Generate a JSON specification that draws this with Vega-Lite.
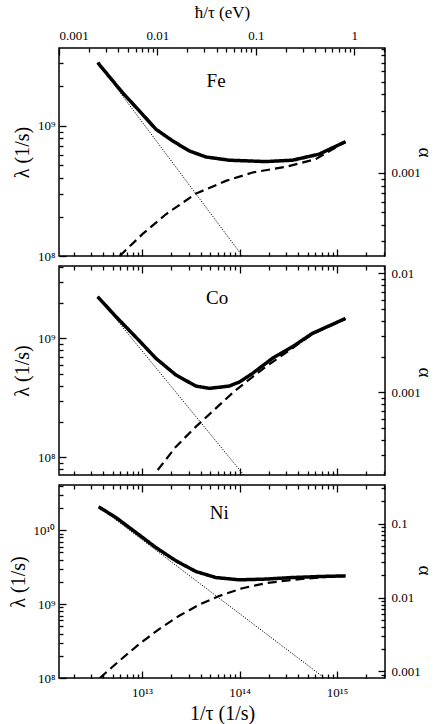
{
  "$schema": "https://vega.github.io/schema/vega-lite/v6.json",
  "autosize": {"type": "pad"},
  "padding": {"left": 7, "top": 2, "right": 2, "bottom": 0},
  "spacing": 10,
  "bounds": "flush",
  "config": {
    "view": {"stroke": "black", "strokeWidth": 1.5},
    "font": "Liberation Serif",
    "text": {"font": "Liberation Serif"},
    "axis": {
      "domain": false, "grid": false, "tickColor": "black", "tickWidth": 1.3,
      "labelFont": "Liberation Serif", "labelFontSize": 13, "labelColor": "black",
      "titleFont": "Liberation Serif", "titleFontSize": 20, "titleFontWeight": "normal", "titleColor": "black",
      "labelOverlap": false
    }
  },
  "vconcat": [
    {
      "width": 326, "height": 208,
      "layer": [
        {
          "encoding": {
            "x": {"field": "x", "type": "quantitative",
              "scale": {"type": "log", "domain": [1.41e12, 3.1e15], "nice": false},
              "axis": {"orient": "bottom", "title": null, "labels": false,
                "values": [2e12,3e12,4e12,5e12,6e12,7e12,8e12,9e12,1e13,2e13,3e13,4e13,5e13,6e13,7e13,8e13,9e13,1e14,2e14,3e14,4e14,5e14,6e14,7e14,8e14,9e14,1e15,2e15,3e15],
                "tickSize": {"condition": {"test": "abs(log(datum.value)/LN10 - round(log(datum.value)/LN10)) < 0.01", "value": -7}, "value": -4}}},
            "y": {"field": "y", "type": "quantitative",
              "scale": {"type": "log", "domain": [1e8, 3.94e9], "nice": false},
              "axis": {"orient": "left", "title": "λ (1/s)", "titlePadding": 5, "labelPadding": 11,
                "values": [1e8,2e8,3e8,4e8,5e8,6e8,7e8,8e8,9e8,1e9,2e9,3e9],
                "labelExpr": "abs(log(datum.value)/LN10 - round(log(datum.value)/LN10)) < 0.01 ? (round(log(datum.value)/LN10) == 8 ? '10⁸' : round(log(datum.value)/LN10) == 9 ? '10⁹' : '10¹⁰') : ''",
                "tickSize": {"condition": {"test": "abs(log(datum.value)/LN10 - round(log(datum.value)/LN10)) < 0.01", "value": -7}, "value": -4}}}
          },
          "layer": [
            {
              "data": {"values": [
                {"s": "solid", "x": 3.52e12, "y": 3.04e9},
                {"s": "solid", "x": 6.32e12, "y": 1.79e9},
                {"s": "solid", "x": 9.38e12, "y": 1.30e9},
                {"s": "solid", "x": 1.39e13, "y": 9.38e8},
                {"s": "solid", "x": 2.06e13, "y": 7.64e8},
                {"s": "solid", "x": 3.05e13, "y": 6.40e8},
                {"s": "solid", "x": 4.52e13, "y": 5.75e8},
                {"s": "solid", "x": 7.83e13, "y": 5.43e8},
                {"s": "solid", "x": 1.86e14, "y": 5.30e8},
                {"s": "solid", "x": 3.48e14, "y": 5.43e8},
                {"s": "solid", "x": 6.53e14, "y": 6.04e8},
                {"s": "solid", "x": 1.22e15, "y": 7.53e8},
                {"s": "dotted", "x": 3.52e12, "y": 3.04e9},
                {"s": "dotted", "x": 1.07e14, "y": 1.0e8},
                {"s": "dashed", "x": 5.9e12, "y": 1.0e8},
                {"s": "dashed", "x": 1.01e13, "y": 1.47e8},
                {"s": "dashed", "x": 1.76e13, "y": 2.09e8},
                {"s": "dashed", "x": 3.57e13, "y": 3.01e8},
                {"s": "dashed", "x": 7.24e13, "y": 3.77e8},
                {"s": "dashed", "x": 1.36e14, "y": 4.37e8},
                {"s": "dashed", "x": 2.98e14, "y": 4.83e8},
                {"s": "dashed", "x": 6.04e14, "y": 5.53e8},
                {"s": "dashed", "x": 1.22e15, "y": 7.53e8}
              ]},
              "mark": {"type": "line", "clip": true, "color": "black"},
              "encoding": {
                "detail": {"field": "s", "type": "nominal"},
                "strokeDash": {"field": "s", "type": "nominal", "scale": {"type": "ordinal", "domain": ["dashed", "dotted", "solid"], "range": [[9, 5], [1.2, 1.5], [1, 0]]}, "legend": null},
                "strokeWidth": {"field": "s", "type": "nominal", "scale": {"type": "ordinal", "domain": ["dashed", "dotted", "solid"], "range": [2.2, 1, 3.5]}, "legend": null}
              }
            },
            {
              "data": {"values": [{"x": 5.75e13, "y": 2.2e9, "name": "Fe"}]},
              "mark": {"type": "text", "fontSize": 19, "font": "Liberation Serif", "align": "center", "baseline": "middle", "color": "black"},
              "encoding": {"text": {"field": "name", "type": "nominal"}}
            }
          ]
        },
        {
          "data": {"values": [{"ev": 0.001, "a": 2.31e-4}, {"ev": 2.05, "a": 9.08e-3}]},
          "mark": {"type": "point", "opacity": 0},
          "encoding": {
            "x": {"field": "ev", "type": "quantitative",
              "scale": {"type": "log", "domain": [0.001, 2.05], "nice": false},
              "axis": {"orient": "top", "title": "ħ/τ   (eV)", "titleFontSize": 17, "titlePadding": 5, "labelPadding": 13, "format": "~g", "labelFlush": true,
                "values": [0.001,0.002,0.003,0.004,0.005,0.006,0.007,0.008,0.009,0.01,0.02,0.03,0.04,0.05,0.06,0.07,0.08,0.09,0.1,0.2,0.3,0.4,0.5,0.6,0.7,0.8,0.9,1,2],
                "labelExpr": "abs(log(datum.value)/LN10 - round(log(datum.value)/LN10)) < 0.01 ? datum.label : ''",
                "tickSize": {"condition": {"test": "abs(log(datum.value)/LN10 - round(log(datum.value)/LN10)) < 0.01", "value": -7}, "value": -4}}},
            "y": {"field": "a", "type": "quantitative",
              "scale": {"type": "log", "domain": [2.31e-4, 9.08e-3], "nice": false},
              "axis": {"orient": "right", "title": "α", "titleFontSize": 19, "titleX": 29, "titleY": 104, "labelPadding": 13, "format": "~g",
                "values": [3e-4,4e-4,5e-4,6e-4,7e-4,8e-4,9e-4,1e-3,2e-3,3e-3,4e-3,5e-3,6e-3,7e-3,8e-3,9e-3],
                "labelExpr": "abs(log(datum.value)/LN10 - round(log(datum.value)/LN10)) < 0.01 ? datum.label : ''",
                "tickSize": {"condition": {"test": "abs(log(datum.value)/LN10 - round(log(datum.value)/LN10)) < 0.01", "value": -7}, "value": -4}}}
          }
        }
      ],
      "resolve": {"scale": {"x": "independent", "y": "independent"}}
    },
    {
      "width": 326, "height": 209,
      "layer": [
        {
          "encoding": {
            "x": {"field": "x", "type": "quantitative",
              "scale": {"type": "log", "domain": [1.41e12, 3.1e15], "nice": false},
              "axis": {"orient": "bottom", "title": null, "labels": false,
                "values": [2e12,3e12,4e12,5e12,6e12,7e12,8e12,9e12,1e13,2e13,3e13,4e13,5e13,6e13,7e13,8e13,9e13,1e14,2e14,3e14,4e14,5e14,6e14,7e14,8e14,9e14,1e15,2e15,3e15],
                "tickSize": {"condition": {"test": "abs(log(datum.value)/LN10 - round(log(datum.value)/LN10)) < 0.01", "value": -7}, "value": -4}}},
            "y": {"field": "y", "type": "quantitative",
              "scale": {"type": "log", "domain": [7.1e7, 4.06e9], "nice": false},
              "axis": {"orient": "left", "title": "λ (1/s)", "titlePadding": 5, "labelPadding": 11,
                "values": [8e7,9e7,1e8,2e8,3e8,4e8,5e8,6e8,7e8,8e8,9e8,1e9,2e9,3e9,4e9],
                "labelExpr": "abs(log(datum.value)/LN10 - round(log(datum.value)/LN10)) < 0.01 ? (round(log(datum.value)/LN10) == 8 ? '10⁸' : round(log(datum.value)/LN10) == 9 ? '10⁹' : '10¹⁰') : ''",
                "tickSize": {"condition": {"test": "abs(log(datum.value)/LN10 - round(log(datum.value)/LN10)) < 0.01", "value": -7}, "value": -4}}}
          },
          "layer": [
            {
              "data": {"values": [
                {"s": "solid", "x": 3.51e12, "y": 2.24e9},
                {"s": "solid", "x": 5.42e12, "y": 1.52e9},
                {"s": "solid", "x": 8.69e12, "y": 1.02e9},
                {"s": "solid", "x": 1.39e13, "y": 6.79e8},
                {"s": "solid", "x": 2.23e13, "y": 4.92e8},
                {"s": "solid", "x": 3.57e13, "y": 3.97e8},
                {"s": "solid", "x": 4.89e13, "y": 3.80e8},
                {"s": "solid", "x": 7.83e13, "y": 3.97e8},
                {"s": "solid", "x": 1.0e14, "y": 4.3e8},
                {"s": "solid", "x": 1.36e14, "y": 5.08e8},
                {"s": "solid", "x": 2.17e14, "y": 6.79e8},
                {"s": "solid", "x": 3.48e14, "y": 8.49e8},
                {"s": "solid", "x": 5.57e14, "y": 1.10e9},
                {"s": "solid", "x": 1.22e15, "y": 1.47e9},
                {"s": "dotted", "x": 3.51e12, "y": 2.24e9},
                {"s": "dotted", "x": 1.106e14, "y": 7.1e7},
                {"s": "dashed", "x": 1.45e13, "y": 7.82e7},
                {"s": "dashed", "x": 2.23e13, "y": 1.23e8},
                {"s": "dashed", "x": 3.57e13, "y": 1.81e8},
                {"s": "dashed", "x": 5.71e13, "y": 2.58e8},
                {"s": "dashed", "x": 9.16e13, "y": 3.68e8},
                {"s": "dashed", "x": 1.86e14, "y": 5.78e8},
                {"s": "dashed", "x": 3.48e14, "y": 8.26e8},
                {"s": "dashed", "x": 5.57e14, "y": 1.09e9},
                {"s": "dashed", "x": 1.22e15, "y": 1.46e9}
              ]},
              "mark": {"type": "line", "clip": true, "color": "black"},
              "encoding": {
                "detail": {"field": "s", "type": "nominal"},
                "strokeDash": {"field": "s", "type": "nominal", "scale": {"type": "ordinal", "domain": ["dashed", "dotted", "solid"], "range": [[9, 5], [1.2, 1.5], [1, 0]]}, "legend": null},
                "strokeWidth": {"field": "s", "type": "nominal", "scale": {"type": "ordinal", "domain": ["dashed", "dotted", "solid"], "range": [2.2, 1, 3.5]}, "legend": null}
              }
            },
            {
              "data": {"values": [{"x": 5.9e13, "y": 2.18e9, "name": "Co"}]},
              "mark": {"type": "text", "fontSize": 19, "font": "Liberation Serif", "align": "center", "baseline": "middle", "color": "black"},
              "encoding": {"text": {"field": "name", "type": "nominal"}}
            }
          ]
        },
        {
          "data": {"values": [{"xt": 1.41e12, "a": 2.03e-4}, {"xt": 3.1e15, "a": 0.0115}]},
          "mark": {"type": "point", "opacity": 0},
          "encoding": {
            "x": {"field": "xt", "type": "quantitative",
              "scale": {"type": "log", "domain": [1.41e12, 3.1e15], "nice": false},
              "axis": {"orient": "top", "title": null, "labels": false,
                "values": [2e12,3e12,4e12,5e12,6e12,7e12,8e12,9e12,1e13,2e13,3e13,4e13,5e13,6e13,7e13,8e13,9e13,1e14,2e14,3e14,4e14,5e14,6e14,7e14,8e14,9e14,1e15,2e15,3e15],
                "tickSize": {"condition": {"test": "abs(log(datum.value)/LN10 - round(log(datum.value)/LN10)) < 0.01", "value": -7}, "value": -4}}},
            "y": {"field": "a", "type": "quantitative",
              "scale": {"type": "log", "domain": [2.03e-4, 0.0115], "nice": false},
              "axis": {"orient": "right", "title": "α", "titleFontSize": 19, "titleX": 29, "titleY": 106, "labelPadding": 13, "format": "~g",
                "values": [3e-4,4e-4,5e-4,6e-4,7e-4,8e-4,9e-4,1e-3,2e-3,3e-3,4e-3,5e-3,6e-3,7e-3,8e-3,9e-3,1e-2],
                "labelExpr": "abs(log(datum.value)/LN10 - round(log(datum.value)/LN10)) < 0.01 ? datum.label : ''",
                "tickSize": {"condition": {"test": "abs(log(datum.value)/LN10 - round(log(datum.value)/LN10)) < 0.01", "value": -7}, "value": -4}}}
          }
        }
      ],
      "resolve": {"scale": {"x": "independent", "y": "independent"}}
    },
    {
      "width": 326, "height": 193,
      "layer": [
        {
          "encoding": {
            "x": {"field": "x", "type": "quantitative",
              "scale": {"type": "log", "domain": [1.41e12, 3.1e15], "nice": false},
              "axis": {"orient": "bottom", "title": "1/τ (1/s)", "titlePadding": 1, "labelPadding": 15,
                "values": [2e12,3e12,4e12,5e12,6e12,7e12,8e12,9e12,1e13,2e13,3e13,4e13,5e13,6e13,7e13,8e13,9e13,1e14,2e14,3e14,4e14,5e14,6e14,7e14,8e14,9e14,1e15,2e15,3e15],
                "labelExpr": "abs(log(datum.value)/LN10 - round(log(datum.value)/LN10)) < 0.01 ? (round(log(datum.value)/LN10) == 13 ? '10¹³' : round(log(datum.value)/LN10) == 14 ? '10¹⁴' : '10¹⁵') : ''",
                "tickSize": {"condition": {"test": "abs(log(datum.value)/LN10 - round(log(datum.value)/LN10)) < 0.01", "value": -7}, "value": -4}}},
            "y": {"field": "y", "type": "quantitative",
              "scale": {"type": "log", "domain": [1e8, 4.09e10], "nice": false},
              "axis": {"orient": "left", "title": "λ (1/s)", "titlePadding": 5, "labelPadding": 11,
                "values": [1e8,2e8,3e8,4e8,5e8,6e8,7e8,8e8,9e8,1e9,2e9,3e9,4e9,5e9,6e9,7e9,8e9,9e9,1e10,2e10,3e10,4e10],
                "labelExpr": "abs(log(datum.value)/LN10 - round(log(datum.value)/LN10)) < 0.01 ? (round(log(datum.value)/LN10) == 8 ? '10⁸' : round(log(datum.value)/LN10) == 9 ? '10⁹' : '10¹⁰') : ''",
                "tickSize": {"condition": {"test": "abs(log(datum.value)/LN10 - round(log(datum.value)/LN10)) < 0.01", "value": -7}, "value": -4}}}
          },
          "layer": [
            {
              "data": {"values": [
                {"s": "solid", "x": 3.60e12, "y": 2.07e10},
                {"s": "solid", "x": 5.42e12, "y": 1.48e10},
                {"s": "solid", "x": 8.69e12, "y": 9.29e9},
                {"s": "solid", "x": 1.39e13, "y": 5.82e9},
                {"s": "solid", "x": 2.23e13, "y": 3.85e9},
                {"s": "solid", "x": 3.57e13, "y": 2.76e9},
                {"s": "solid", "x": 5.71e13, "y": 2.29e9},
                {"s": "solid", "x": 9.91e13, "y": 2.13e9},
                {"s": "solid", "x": 1.86e14, "y": 2.18e9},
                {"s": "solid", "x": 3.48e14, "y": 2.29e9},
                {"s": "solid", "x": 6.53e14, "y": 2.36e9},
                {"s": "solid", "x": 1.22e15, "y": 2.41e9},
                {"s": "dotted", "x": 3.60e12, "y": 2.07e10},
                {"s": "dotted", "x": 7.43e14, "y": 1.0e8},
                {"s": "dashed", "x": 3.7e12, "y": 1.0e8},
                {"s": "dashed", "x": 5.86e12, "y": 1.71e8},
                {"s": "dashed", "x": 9.38e12, "y": 2.88e8},
                {"s": "dashed", "x": 1.50e13, "y": 4.59e8},
                {"s": "dashed", "x": 2.41e13, "y": 6.95e8},
                {"s": "dashed", "x": 3.85e13, "y": 9.79e8},
                {"s": "dashed", "x": 6.18e13, "y": 1.29e9},
                {"s": "dashed", "x": 1.07e14, "y": 1.64e9},
                {"s": "dashed", "x": 1.86e14, "y": 1.92e9},
                {"s": "dashed", "x": 3.48e14, "y": 2.13e9},
                {"s": "dashed", "x": 6.53e14, "y": 2.29e9},
                {"s": "dashed", "x": 1.22e15, "y": 2.41e9}
              ]},
              "mark": {"type": "line", "clip": true, "color": "black"},
              "encoding": {
                "detail": {"field": "s", "type": "nominal"},
                "strokeDash": {"field": "s", "type": "nominal", "scale": {"type": "ordinal", "domain": ["dashed", "dotted", "solid"], "range": [[9, 5], [1.2, 1.5], [1, 0]]}, "legend": null},
                "strokeWidth": {"field": "s", "type": "nominal", "scale": {"type": "ordinal", "domain": ["dashed", "dotted", "solid"], "range": [2.2, 1, 3.5]}, "legend": null}
              }
            },
            {
              "data": {"values": [{"x": 6.2e13, "y": 1.71e10, "name": "Ni"}]},
              "mark": {"type": "text", "fontSize": 19, "font": "Liberation Serif", "align": "center", "baseline": "middle", "color": "black"},
              "encoding": {"text": {"field": "name", "type": "nominal"}}
            }
          ]
        },
        {
          "data": {"values": [{"xt": 1.41e12, "a": 8.15e-4}, {"xt": 3.1e15, "a": 0.333}]},
          "mark": {"type": "point", "opacity": 0},
          "encoding": {
            "x": {"field": "xt", "type": "quantitative",
              "scale": {"type": "log", "domain": [1.41e12, 3.1e15], "nice": false},
              "axis": {"orient": "top", "title": null, "labels": false,
                "values": [2e12,3e12,4e12,5e12,6e12,7e12,8e12,9e12,1e13,2e13,3e13,4e13,5e13,6e13,7e13,8e13,9e13,1e14,2e14,3e14,4e14,5e14,6e14,7e14,8e14,9e14,1e15,2e15,3e15],
                "tickSize": {"condition": {"test": "abs(log(datum.value)/LN10 - round(log(datum.value)/LN10)) < 0.01", "value": -7}, "value": -4}}},
            "y": {"field": "a", "type": "quantitative",
              "scale": {"type": "log", "domain": [8.15e-4, 0.333], "nice": false},
              "axis": {"orient": "right", "title": "α", "titleFontSize": 19, "titleX": 29, "titleY": 85, "labelPadding": 13, "format": "~g",
                "values": [9e-4,1e-3,2e-3,3e-3,4e-3,5e-3,6e-3,7e-3,8e-3,9e-3,1e-2,2e-2,3e-2,4e-2,5e-2,6e-2,7e-2,8e-2,9e-2,0.1,0.2,0.3],
                "labelExpr": "abs(log(datum.value)/LN10 - round(log(datum.value)/LN10)) < 0.01 ? datum.label : ''",
                "tickSize": {"condition": {"test": "abs(log(datum.value)/LN10 - round(log(datum.value)/LN10)) < 0.01", "value": -7}, "value": -4}}}
          }
        }
      ],
      "resolve": {"scale": {"x": "independent", "y": "independent"}}
    }
  ]
}
